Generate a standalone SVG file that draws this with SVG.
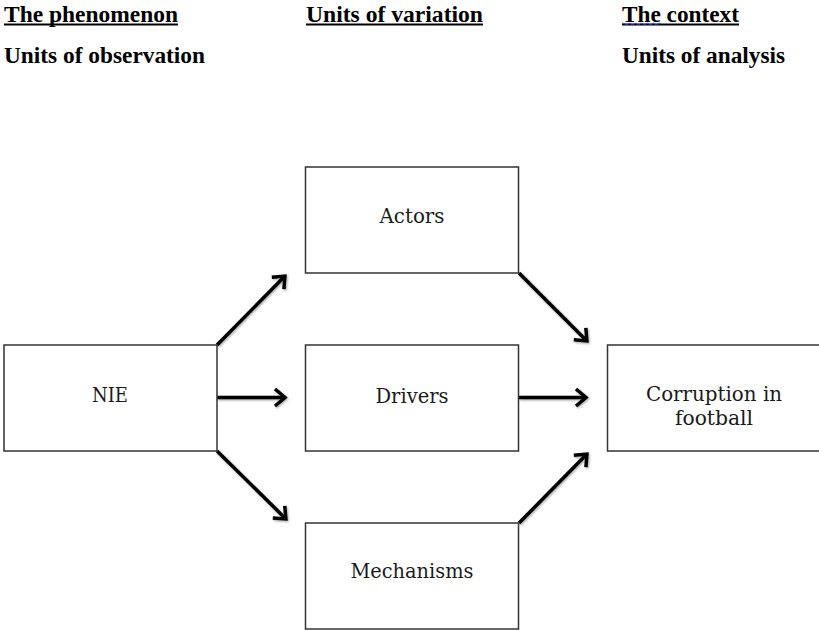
<svg xmlns="http://www.w3.org/2000/svg" width="819" height="630" viewBox="0 0 819 630">
  <style>
    .hd { font-family: "Liberation Serif", "Times New Roman", serif; font-weight: bold; font-size: 24px; fill: #000; }
    .ul { stroke: #000; stroke-width: 2; }
    .box { fill: #fff; stroke: #333; stroke-width: 1.5; }
    .lbl { font-family: "DejaVu Serif", "Liberation Serif", serif; font-size: 20px; fill: #1a1a1a; text-anchor: middle; }
    .arrow { fill: none; stroke: #000; stroke-width: 3.5; marker-end: url(#head); filter: url(#shadow); }
  </style>
  <defs>
    <marker id="head" markerUnits="userSpaceOnUse" viewBox="-16 -12 20 24" refX="0" refY="0" markerWidth="20" markerHeight="24" orient="auto" overflow="visible">
      <path d="M-10,-8.5 L0,0 L-10,8.5" fill="none" stroke="#000" stroke-width="3.5" stroke-linejoin="miter" stroke-linecap="butt"/>
    </marker>
    <filter id="shadow" filterUnits="userSpaceOnUse" x="0" y="0" width="819" height="630">
      <feDropShadow dx="1" dy="1.2" stdDeviation="1" flood-color="#000" flood-opacity="0.35"/>
    </filter>
  </defs>
  <rect width="819" height="630" fill="#fff"/>

  <g id="headings">
    <text class="hd" x="4" y="21.5" textLength="174" lengthAdjust="spacingAndGlyphs">The phenomenon</text>
    <line class="ul" x1="4" y1="24.5" x2="178" y2="24.5"/>
    <text class="hd" x="306" y="21.5" textLength="177" lengthAdjust="spacingAndGlyphs">Units of variation</text>
    <line class="ul" x1="306" y1="24.5" x2="483" y2="24.5"/>
    <text class="hd" x="622" y="21.5" textLength="117" lengthAdjust="spacingAndGlyphs">The context</text>
    <line class="ul" x1="622" y1="24.5" x2="739" y2="24.5"/>
    <path d="M622,24 q1.5,-1.5 3,0 t3,0 t3,0 t3,0 t3,0 t3,0 t3,0 t3,0 t3,0 t3,0 t3,0 t3,0 t3,0" fill="none" stroke="#2a3fd6" stroke-width="1"/>
    <text class="hd" x="4" y="63" textLength="201" lengthAdjust="spacingAndGlyphs">Units of observation</text>
    <text class="hd" x="622" y="63" textLength="163" lengthAdjust="spacingAndGlyphs">Units of analysis</text>
  </g>

  <g id="connectors">
    <line class="arrow" x1="217" y1="345" x2="284.9" y2="276.1"/>
    <line class="arrow" x1="217" y1="397.5" x2="285" y2="397.5"/>
    <line class="arrow" x1="217" y1="451" x2="285.9" y2="518.9"/>
    <line class="arrow" x1="519" y1="273" x2="586.9" y2="340.9"/>
    <line class="arrow" x1="519" y1="397.5" x2="586" y2="397.5"/>
    <line class="arrow" x1="519" y1="523" x2="586.9" y2="454.1"/>
  </g>

  <g id="nie">
    <rect class="box" x="4" y="345" width="213" height="106"/>
    <text class="lbl" x="110" y="402" textLength="36" lengthAdjust="spacingAndGlyphs">NIE</text>
  </g>
  <g id="actors">
    <rect class="box" x="305.5" y="167" width="213" height="106"/>
    <text class="lbl" x="412" y="223" textLength="65" lengthAdjust="spacingAndGlyphs">Actors</text>
  </g>
  <g id="drivers">
    <rect class="box" x="305.5" y="345" width="213" height="106"/>
    <text class="lbl" x="412" y="402.5" textLength="73" lengthAdjust="spacingAndGlyphs">Drivers</text>
  </g>
  <g id="mechanisms">
    <rect class="box" x="305.5" y="523" width="213" height="106"/>
    <text class="lbl" x="412" y="578" textLength="123" lengthAdjust="spacingAndGlyphs">Mechanisms</text>
  </g>
  <g id="corruption">
    <rect class="box" x="607.5" y="345" width="214" height="106"/>
    <text class="lbl" x="714" y="400.5" textLength="136" lengthAdjust="spacingAndGlyphs">Corruption in</text>
    <text class="lbl" x="714" y="425" textLength="78" lengthAdjust="spacingAndGlyphs">football</text>
  </g>
</svg>
